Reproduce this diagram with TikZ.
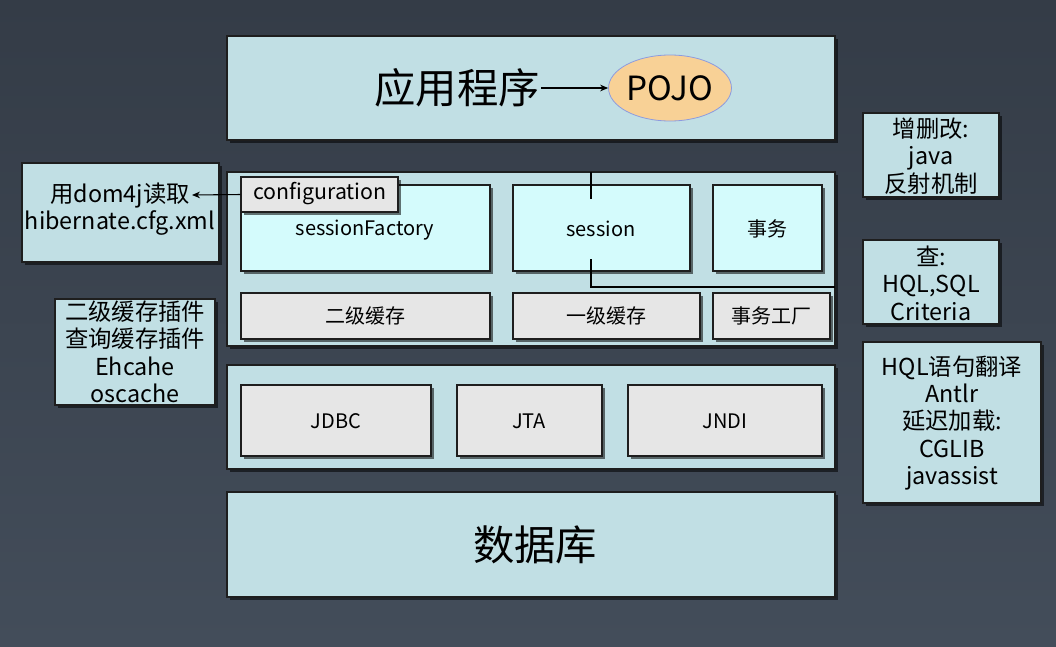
\documentclass[tikz,border=0pt]{standalone}
\usepackage{fontspec}
\setmainfont{Noto Sans CJK SC}
\usetikzlibrary{shadows,fit,arrows.meta,shapes.geometric}
\definecolor{bgtop}{HTML}{343C47}
\definecolor{bgbot}{HTML}{434D5A}
\definecolor{lblue}{HTML}{C1DFE4}
\definecolor{cybox}{HTML}{D4FBFC}
\definecolor{grbox}{HTML}{E6E6E6}
\definecolor{pojofill}{HTML}{F8D196}
\definecolor{pojoedge}{HTML}{8C9BE0}
\definecolor{edge}{HTML}{1E1E1E}
\begin{document}
\begin{tikzpicture}[x=0.75pt,y=-0.75pt,
  blk/.style={draw=edge, line width=0.8pt, inner sep=0pt,
    drop shadow={shadow xshift=2pt,shadow yshift=-2pt,opacity=0.55,fill=black}},
  layer/.style={blk, fill=lblue},
  cyb/.style={blk, fill=cybox},
  grb/.style={blk, fill=grbox},
  big/.style={font=\fontsize{31}{36}\selectfont},
  side/.style={align=center, inner sep=0pt, font=\fontsize{17.5}{20.6}\selectfont},
  inner/.style={font=\fontsize{15}{18}\selectfont},
  conn/.style={draw=black, line width=0.8pt},
  arr/.style={conn, -{Stealth[length=6pt,width=5pt]}}]
\fill[top color=bgtop, bottom color=bgbot] (0,0) rectangle (1056,646);
\useasboundingbox (0,0) rectangle (1056,646);

% top layer
\node[layer, fit={(227,36)(835,140)}] (app) {};
\node[big, inner sep=1pt] (appt) at (457,88) {应用程序};
\node[ellipse, draw=pojoedge, fill=pojofill, line width=0.6pt, minimum width=82.5pt, minimum height=49.5pt, inner sep=0pt, font=\fontsize{25}{30}\selectfont] (pojo) at (670,88) {POJO};
\draw[arr] (appt.east) -- (pojo.west);

% middle layer
\node[layer, fit={(227,172)(835,346)}] (mid) {};
\node[cyb, fit={(241,185)(490,271)}] (sf) {};
\node[inner] at (365,230) {sessionFactory};
\node[grb, fit={(241,177)(398,212)}] (cfg) {};
\node[font=\fontsize{16}{19}\selectfont] (cfgt) at (320,194) {configuration};
\node[cyb, fit={(513,185)(690,271)}] (sess) {};
\node[inner] at (601,229) {session};
\node[cyb, fit={(713,185)(822,271)}] (tx) {};
\node[inner] at (767,229) {事务};
\node[grb, fit={(241,293)(490,339)}] (l2) {};
\node[inner] at (365,316) {二级缓存};
\node[grb, fit={(513,293)(700,339)}] (l1) {};
\node[inner] at (606,316) {一级缓存};
\node[grb, fit={(713,293)(830,339)}] (tf) {};
\node[inner] at (771,316) {事务工厂};
\coordinate (s1) at (591,172);
\coordinate (s2) at (591,199);
\coordinate (s3) at (591,259);
\coordinate (s4) at (835,287);
\draw[conn] (s1) -- (s2);
\draw[conn] (s3) |- (s4);

% lower layer
\node[layer, fit={(227,365)(835,469)}] (low) {};
\node[grb, fit={(241,385)(431,456)}] (jdbc) {};
\node[inner] at (336,421) {JDBC};
\node[grb, fit={(457,385)(602,456)}] (jta) {};
\node[inner] at (529,421) {JTA};
\node[grb, fit={(628,385)(822,456)}] (jndi) {};
\node[inner] at (725,421) {JNDI};

% database
\node[layer, fit={(227,492)(835,597)}] (db) {};
\node[big] at (535,545) {数据库};

% left boxes
\node[layer, fit={(22,163)(219,262)}] (dom) {};
\node[side] (domt) at (120,209) {用dom4j读取\\hibernate.cfg.xml};
\coordinate (domarr) at (192,195);
\draw[arr] (cfg.west) -- (domarr);
\node[layer, fit={(55,299)(215,405)}] (cache) {};
\node[side] at (135,352) {二级缓存插件\\查询缓存插件\\Ehcahe\\oscache};

% right boxes
\node[layer, fit={(863,113)(999,197)}] (r1) {};
\node[side] at (931,156) {增删改:\\java\\反射机制};
\node[layer, fit={(863,240)(999,324)}] (r2) {};
\node[side] at (931,283) {查:\\HQL,SQL\\Criteria};
\node[layer, fit={(863,342)(1041,503)}] (r3) {};
\node[side] at (952,423) {HQL语句翻译\\Antlr\\延迟加载:\\CGLIB\\javassist};
\end{tikzpicture}
\end{document}
